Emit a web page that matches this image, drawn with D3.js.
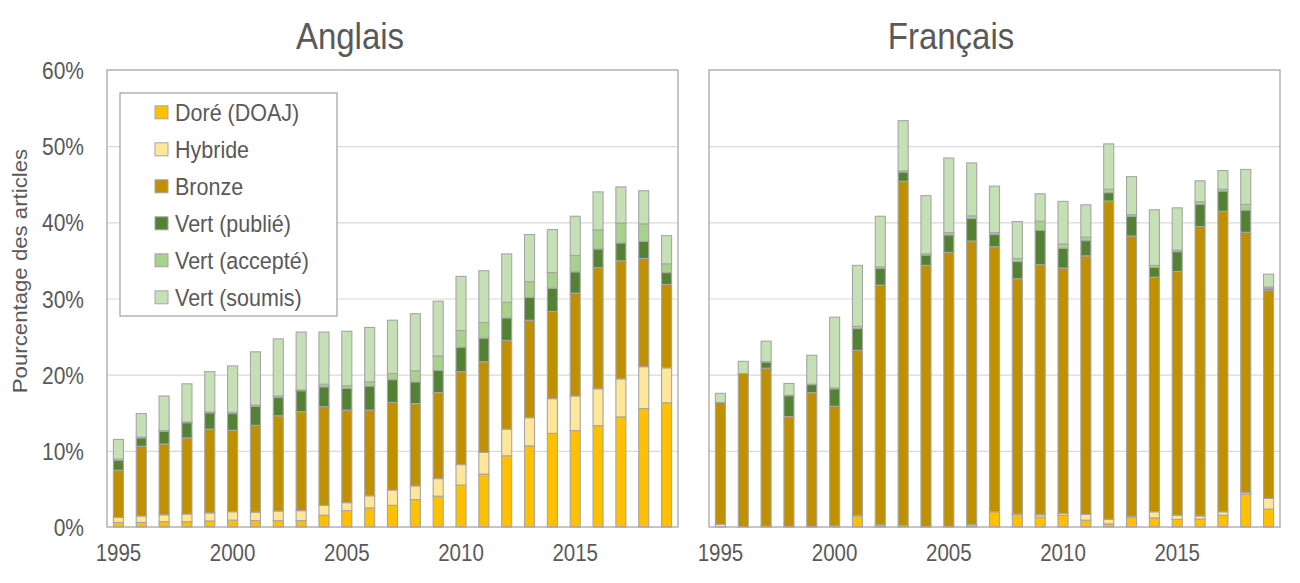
<!DOCTYPE html>
<html>
<head>
<meta charset="utf-8">
<script src="https://cdn.jsdelivr.net/npm/d3@7"></script>
<style>
    body { margin: 0; background: #fff; }
    text { font-family: "Liberation Sans", Arial, sans-serif; fill: #595959; }
</style>
</head>
<body>
<svg id="chart" width="1300" height="583"></svg>
<script>
const years = [1995, 1996, 1997, 1998, 1999, 2000, 2001, 2002, 2003, 2004, 2005, 2006, 2007,
    2008, 2009, 2010, 2011, 2012, 2013, 2014, 2015, 2016, 2017, 2018, 2019];
const yearLabels = [1995, 2000, 2005, 2010, 2015];
const percentTicks = [0, 10, 20, 30, 40, 50, 60];

const seriesNames = ["Doré (DOAJ)", "Hybride", "Bronze", "Vert (publié)", "Vert (accepté)", "Vert (soumis)"];
const seriesColours = ["#FFC000", "#FFE699", "#BF9000", "#548235", "#A9D18E", "#C5E0B4"];

// Anglais
const engDore = [0.6, 0.6, 0.7, 0.7, 0.8, 0.9, 0.85, 0.85, 0.85, 1.55, 2.15, 2.5, 2.85, 3.6, 4.05, 5.5, 6.95, 9.35, 10.65, 12.3, 12.65, 13.3, 14.45, 15.55, 16.3];
const engHybride = [0.65, 0.85, 0.9, 1.0, 1.05, 1.1, 1.1, 1.25, 1.3, 1.3, 1.05, 1.6, 2.0, 1.8, 2.3, 2.7, 2.85, 3.5, 3.7, 4.55, 4.55, 4.85, 5.0, 5.5, 4.6];
const engBronze = [6.2, 9.15, 9.3, 10.0, 11.0, 10.7, 11.4, 12.5, 13.0, 12.95, 12.15, 11.25, 11.5, 10.8, 11.3, 12.2, 11.9, 11.65, 12.8, 11.45, 13.5, 15.9, 15.5, 14.2, 10.95];
const engPublie = [1.3, 1.1, 1.65, 2.0, 2.15, 2.2, 2.5, 2.4, 2.75, 2.6, 2.85, 3.15, 3.0, 2.85, 2.9, 3.2, 3.1, 2.95, 3.0, 3.05, 2.8, 2.45, 2.35, 2.25, 1.55];
const engAccepte = [0.15, 0.1, 0.1, 0.1, 0.1, 0.15, 0.15, 0.2, 0.1, 0.35, 0.35, 0.55, 0.8, 1.45, 1.9, 2.2, 2.05, 2.05, 2.05, 2.05, 2.15, 2.5, 2.6, 2.3, 1.15];
const engSoumis = [2.6, 3.1, 4.55, 5.0, 5.3, 6.1, 7.0, 7.5, 7.6, 6.85, 7.15, 7.15, 7.0, 7.5, 7.2, 7.1, 6.8, 6.35, 6.2, 5.65, 5.15, 5.0, 4.75, 4.35, 3.7];

// Français
const frDore = [0, 0, 0.1, 0.05, 0.05, 0, 1.45, 0.15, 0.1, 0.05, 0.05, 0.3, 2.0, 1.65, 1.3, 1.55, 0.9, 0.4, 1.3, 1.2, 1.0, 1.05, 1.55, 4.3, 2.35];
const frHybride = [0.35, 0, 0, 0, 0, 0.15, 0.05, 0.15, 0.1, 0, 0, 0, 0, 0.05, 0.3, 0.25, 0.75, 0.6, 0.1, 0.8, 0.55, 0.4, 0.45, 0.2, 1.4];
const frBronze = [16.0, 20.15, 20.75, 14.45, 17.6, 15.7, 21.7, 31.45, 45.2, 34.3, 36.0, 37.25, 34.8, 30.9, 32.85, 32.2, 33.95, 41.8, 36.8, 30.8, 32.0, 38.0, 39.45, 34.2, 27.35];
const frPublie = [0, 0, 0.8, 2.75, 1.05, 2.3, 2.85, 2.2, 1.2, 1.35, 2.3, 2.95, 1.6, 2.25, 4.5, 2.6, 2.0, 1.1, 2.6, 1.3, 2.6, 2.9, 2.65, 2.9, 0.2];
const frAccepte = [0, 0, 0.05, 0.05, 0.05, 0.1, 0.3, 0.2, 0.15, 0.15, 0.3, 0.35, 0.25, 0.4, 1.2, 0.55, 0.45, 0.45, 0.2, 0.25, 0.2, 0.35, 0.25, 0.75, 0.2];
const frSoumis = [1.2, 1.6, 2.7, 1.55, 3.8, 9.3, 8.0, 6.65, 6.6, 7.65, 9.8, 6.95, 6.1, 4.85, 3.6, 5.6, 4.25, 5.95, 5.0, 7.3, 5.55, 2.75, 2.45, 4.6, 1.7];

const panels = [
    { title: "Anglais", titleX: 350, left: 107, right: 678, showY: true, legend: true,
      series: [engDore, engHybride, engBronze, engPublie, engAccepte, engSoumis] },
    { title: "Français", titleX: 951, left: 709, right: 1280, showY: false, legend: false,
      series: [frDore, frHybride, frBronze, frPublie, frAccepte, frSoumis] }
];

const plotTop = 70, plotBottom = 527;
const stretch = 1.14; // text in the picture is a bit tall for its width
const borderColour = "#A6A6A6";

const svg = d3.select("#chart");

const y = d3.scaleLinear().domain([0, 60]).range([plotBottom, plotTop]);

const addText = (g, x, yy, str, size, anchor, rot = 0) => g.append("text")
    .attr("transform", `translate(${x},${yy}) scale(1,${stretch}) rotate(${rot})`)
    .attr("text-anchor", anchor)
    .attr("font-size", size)
    .text(str);

panels.forEach(p => {
    const g = svg.append("g");

    const x = d3.scaleBand()
        .domain(years)
        .range([p.left, p.right])
        .paddingInner(0.56)
        .paddingOuter(0.28);

    // gridlines
    g.append("g")
        .attr("transform", `translate(${p.left},0)`)
        .call(d3.axisLeft(y).tickValues(percentTicks.slice(1, -1)).tickSize(-(p.right - p.left)).tickFormat(""))
        .call(a => a.select(".domain").remove())
        .call(a => a.selectAll("line").attr("stroke", "#D9D9D9").attr("stroke-width", 1.2));

    // stacked bars
    const rows = years.map((yr, i) => {
        const r = { year: yr };
        seriesNames.forEach((s, k) => { r[s] = p.series[k][i]; });
        return r;
    });
    const stacked = d3.stack().keys(seriesNames)(rows);

    g.selectAll(".layer")
        .data(stacked)
        .join("g")
        .attr("fill", (_, k) => seriesColours[k])
        .selectAll("rect")
        .data(d => d.filter(v => v[1] - v[0] > 0))
        .join("rect")
        .attr("x", d => x(d.data.year))
        .attr("width", x.bandwidth())
        .attr("y", d => y(d[1]))
        .attr("height", d => y(d[0]) - y(d[1]))
        .attr("stroke", borderColour)
        .attr("stroke-width", 1.1);

    // frame
    g.append("rect")
        .attr("x", p.left)
        .attr("y", plotTop)
        .attr("width", p.right - p.left)
        .attr("height", plotBottom - plotTop)
        .attr("fill", "none")
        .attr("stroke", borderColour)
        .attr("stroke-width", 1.3);

    // x axis labels
    g.append("g")
        .attr("transform", `translate(0,${plotBottom})`)
        .call(d3.axisBottom(x).tickValues(yearLabels).tickSize(0))
        .call(a => a.select(".domain").remove())
        .call(a => a.selectAll("text")
            .attr("y", 0).attr("dy", 0)
            .attr("font-size", 20.5)
            .attr("font-family", "Liberation Sans, Arial, sans-serif")
            .attr("fill", "#595959")
            .attr("transform", `translate(0,34) scale(1,${stretch})`));

    if (p.showY) {
        g.append("g")
            .attr("transform", `translate(${p.left},0)`)
            .call(d3.axisLeft(y).tickValues(percentTicks).tickFormat(d => d + "%").tickSize(0).tickPadding(23))
            .call(a => a.select(".domain").remove())
            .call(a => a.selectAll("text")
                .attr("dy", 0)
                .attr("font-size", 21)
                .attr("font-family", "Liberation Sans, Arial, sans-serif")
                .attr("fill", "#595959")
                .attr("transform", `translate(0,8.5) scale(1,${stretch})`));

        addText(svg, 27, 271, "Pourcentage des articles", 19.5, "middle", -90);
    }

    addText(svg, p.titleX, 49, p.title, 33, "middle").attr("fill", "#404040");

    if (p.legend) {
        const lg = svg.append("g");
        lg.append("rect")
            .attr("x", 120).attr("y", 93)
            .attr("width", 217).attr("height", 223)
            .attr("fill", "#fff")
            .attr("stroke", borderColour)
            .attr("stroke-width", 1.3);

        const item = lg.selectAll(".item")
            .data(seriesNames)
            .join("g")
            .attr("transform", (_, i) => `translate(155,${112.3 + i * 37})`);

        item.append("rect")
            .attr("x", 0).attr("y", -6.5)
            .attr("width", 13).attr("height", 13)
            .attr("fill", (_, i) => seriesColours[i])
            .attr("stroke", borderColour)
            .attr("stroke-width", 1);

        item.each(function(d) {
            addText(d3.select(this), 20, 8.8, d, 21.5, "start");
        });
    }
});
</script>
</body>
</html>
